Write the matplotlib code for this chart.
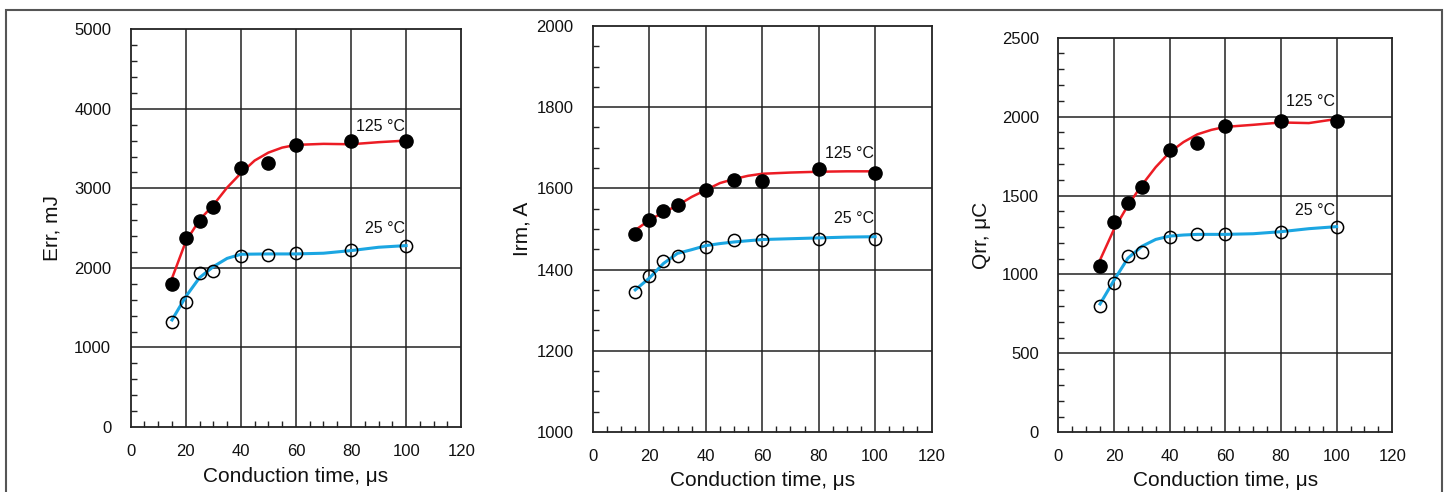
import numpy as np
import matplotlib
matplotlib.use("Agg")
import matplotlib.pyplot as plt
from matplotlib.patches import Rectangle
from matplotlib.ticker import MultipleLocator

plt.rcParams['font.family'] = ['Liberation Sans', 'DejaVu Sans']

# measured points (conduction time in us)
t_pts = [15, 20, 25, 30, 40, 50, 60, 80, 100]

err_125 = [1795, 2381, 2591, 2763, 3254, 3325, 3547, 3601, 3601]
err_25 = [1325, 1576, 1933, 1966, 2151, 2168, 2185, 2226, 2277]
irm_125 = [1488, 1523, 1544, 1558, 1597, 1621, 1619, 1648, 1639]
irm_25 = [1345, 1383, 1422, 1434, 1456, 1472, 1474, 1476, 1476]
qrr_125 = [1056, 1333, 1452, 1555, 1791, 1830, 1942, 1974, 1974]
qrr_25 = [798, 948, 1114, 1140, 1239, 1254, 1254, 1269, 1301]

# fitted trend lines
t_fit = [15, 20, 25, 30, 35, 40, 45, 50, 55, 60, 70, 80, 90, 100]

err_125_fit = [1870, 2331, 2604, 2790, 3010, 3191, 3350, 3450, 3513, 3547, 3560, 3555, 3581, 3601]
err_25_fit = [1346, 1639, 1878, 2016, 2120, 2172, 2174, 2176, 2176, 2176, 2185, 2218, 2260, 2281]
irm_125_fit = [1497, 1522, 1541, 1558, 1579, 1596, 1613, 1623, 1631, 1636, 1639, 1641, 1642, 1642]
irm_25_fit = [1350, 1379, 1415, 1440, 1449, 1459, 1464, 1468, 1471, 1474, 1476, 1478, 1480, 1481]
qrr_125_fit = [1092, 1286, 1437, 1566, 1680, 1774, 1839, 1888, 1916, 1935, 1948, 1963, 1959, 1985]
qrr_25_fit = [813, 963, 1103, 1178, 1222, 1243, 1250, 1254, 1254, 1254, 1258, 1271, 1290, 1303]

RED = '#ec1c24'
BLUE = '#1ba6e2'

fig = plt.figure(figsize=(14.44, 4.92), dpi=100)

# outer frame of the figure
fig.patches.append(Rectangle((6 / 1444, -0.2), 1436 / 1444, 1.2 - 10 / 492,
                             transform=fig.transFigure, fill=False,
                             edgecolor='#555555', lw=1.5))

panels = [
    dict(pos=[0.0905, 0.1321, 0.2289, 0.8083], ylim=(0, 5000), major=1000, minor=200,
         ylabel='Err, mJ', d125=err_125, d25=err_25, f125=err_125_fit, f25=err_25_fit,
         lab125=3680, lab25=2400, ylx=51.7, xly=476),
    dict(pos=[0.4106, 0.1220, 0.2345, 0.8252], ylim=(1000, 2000), major=200, minor=50,
         ylabel='Irm, A', d125=irm_125, d25=irm_25, f125=irm_125_fit, f25=irm_25_fit,
         lab125=1668, lab25=1507, ylx=521.7, xly=480),
    dict(pos=[0.7329, 0.1213, 0.2313, 0.8021], ylim=(0, 2500), major=500, minor=100,
         ylabel='Qrr, \u03bcC', d125=qrr_125, d25=qrr_25, f125=qrr_125_fit, f25=qrr_25_fit,
         lab125=2047, lab25=1360, ylx=981.7, xly=480),
]

for p in panels:
    ax = fig.add_axes(p['pos'])
    ax.set_xlim(0, 120)
    ax.set_ylim(*p['ylim'])
    ax.xaxis.set_major_locator(MultipleLocator(20))
    ax.xaxis.set_minor_locator(MultipleLocator(5))
    ax.yaxis.set_major_locator(MultipleLocator(p['major']))
    ax.yaxis.set_minor_locator(MultipleLocator(p['minor']))
    ax.tick_params(which='both', direction='in', top=False, right=False)
    ax.tick_params(which='major', length=0, labelsize=12, colors='#111111')
    ax.tick_params(axis='x', which='major', pad=12)
    ax.tick_params(axis='y', which='major', pad=14)
    ax.tick_params(which='minor', length=4.5, width=1.0, color='#222222')
    for s in ax.spines.values():
        s.set_linewidth(1.3)
        s.set_color('#222222')
    # grid lines only at 20..100 vertically
    for xv in [20, 40, 60, 80, 100]:
        ax.axvline(xv, color='#222222', lw=1.1, zorder=1)
    lo, hi = p['ylim']
    for yv in np.arange(lo + p['major'], hi, p['major']):
        ax.axhline(yv, color='#222222', lw=1.1, zorder=1)

    ax.plot(t_fit, p['f125'], color=RED, lw=1.8, zorder=2, solid_joinstyle='round')
    ax.plot(t_fit, p['f25'], color=BLUE, lw=2.2, zorder=2, solid_joinstyle='round')
    ax.plot(t_pts, p['d125'], 'o', color='black', ms=9.5, zorder=3)
    ax.plot(t_pts, p['d25'], 'o', mfc='none', mec='black', mew=1.1, ms=8.8, zorder=3)

    ax.text(99.5, p['lab125'], '125 \u00b0C', ha='right', va='bottom', fontsize=11.5,
            color='#111111', zorder=4)
    ax.text(99.5, p['lab25'], '25 \u00b0C', ha='right', va='bottom', fontsize=11.5,
            color='#111111', zorder=4)

    fig.text(p['ylx'] / 1444, (p['pos'][1] + p['pos'][3] / 2), p['ylabel'],
             rotation=90, ha='center', va='center', fontsize=15, color='#111111')
    fig.text((p['pos'][0] + p['pos'][2] / 2), 1 - p['xly'] / 492,
             'Conduction time, \u03bcs', ha='center', va='center', fontsize=15,
             color='#111111')

fig.savefig('out.png', dpi=100)
